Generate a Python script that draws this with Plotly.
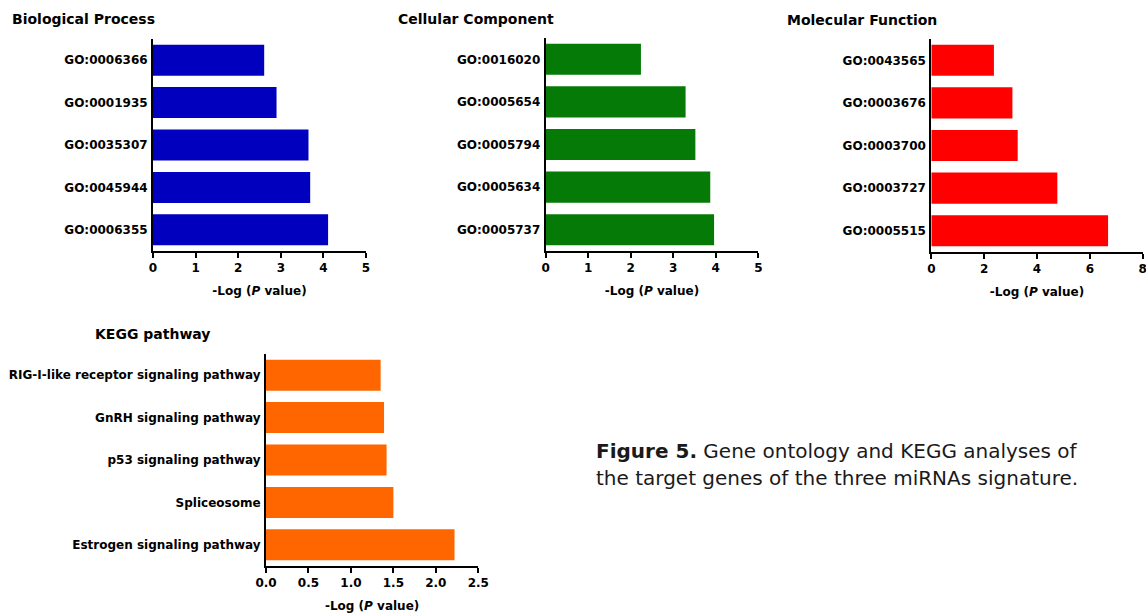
import plotly.graph_objects as go

W, H = 1146, 613

# ---- data ----
bp_terms = ["GO:0006366", "GO:0001935", "GO:0035307", "GO:0045944", "GO:0006355"]
bp_vals = [2.61, 2.90, 3.65, 3.69, 4.11]

cc_terms = ["GO:0016020", "GO:0005654", "GO:0005794", "GO:0005634", "GO:0005737"]
cc_vals = [2.24, 3.29, 3.52, 3.87, 3.96]

mf_terms = ["GO:0043565", "GO:0003676", "GO:0003700", "GO:0003727", "GO:0005515"]
mf_vals = [2.37, 3.07, 3.27, 4.77, 6.69]

kegg_terms = ["RIG-I-like receptor signaling pathway", "GnRH signaling pathway",
              "p53 signaling pathway", "Spliceosome", "Estrogen signaling pathway"]
kegg_vals = [1.35, 1.39, 1.42, 1.50, 2.22]

bp_ticks = [0, 1, 2, 3, 4, 5]
cc_ticks = [0, 1, 2, 3, 4, 5]
mf_ticks = [0, 2, 4, 6, 8]
kegg_ticks = [0.0, 0.5, 1.0, 1.5, 2.0, 2.5]

panel_titles = ["Biological Process", "Cellular Component", "Molecular Function", "KEGG pathway"]
axis_title = "-Log (<i>P</i> value)"
caption_line1 = "<b>Figure 5.</b> Gene ontology and KEGG analyses of"
caption_line2 = "the target genes of the three miRNAs signature."

# ---- layout helpers (page pixel -> paper fraction) ----
def px(x):
    return x / W

def py(y):
    return 1 - y / H

def xd(a, b):
    return [px(a), px(b)]

def yd(top, bottom):
    return [py(bottom), py(top)]

FONT = "DejaVu Sans"
bold12 = dict(family=FONT, size=12, color="black", weight="bold")

panels = [
    dict(terms=bp_terms, vals=bp_vals, color="#0000BE", x=(153, 366), y=(39, 251),
         ticks=bp_ticks, fmt="d", title_xy=(10, 19)),
    dict(terms=cc_terms, vals=cc_vals, color="#067A06", x=(545.7, 758.3), y=(38, 251),
         ticks=cc_ticks, fmt="d", title_xy=(396, 19)),
    dict(terms=mf_terms, vals=mf_vals, color="#FF0000", x=(931.3, 1142.7), y=(39, 252),
         ticks=mf_ticks, fmt="d", title_xy=(785, 20)),
    dict(terms=kegg_terms, vals=kegg_vals, color="#FF6600", x=(266, 478.3), y=(354, 566),
         ticks=kegg_ticks, fmt=".1f", title_xy=(93, 334)),
]

fig = go.Figure()
layout = dict(
    width=W, height=H,
    margin=dict(l=0, r=0, t=0, b=0, autoexpand=False),
    paper_bgcolor="white", plot_bgcolor="white",
    showlegend=False,
    bargap=0.27,
)
annotations = []

for i, p in enumerate(panels, start=1):
    sfx = "" if i == 1 else str(i)
    fig.add_trace(go.Bar(
        x=p["vals"], y=p["terms"], orientation="h",
        marker=dict(color=p["color"], line=dict(width=0)),
        xaxis="x" + sfx, yaxis="y" + sfx, hoverinfo="x+y",
    ))
    layout["xaxis" + sfx] = dict(
        domain=xd(*p["x"]), anchor="y" + sfx, range=[p["ticks"][0], p["ticks"][-1]],
        tickmode="array", tickvals=p["ticks"], tickformat=p["fmt"],
        showgrid=False, zeroline=False,
        showline=True, linecolor="black", linewidth=2, automargin=False,
        ticks="outside", ticklen=5, tickwidth=1.5, tickcolor="black",
        tickfont=bold12, ticklabeloverflow="allow",
        title=dict(text=axis_title, font=dict(family=FONT, size=12, color="black", weight="bold"),
                   standoff=12),
    )
    layout["yaxis" + sfx] = dict(
        domain=yd(*p["y"]), anchor="x" + sfx, type="category",
        autorange="reversed", showgrid=False, zeroline=False, automargin=False,
        showline=True, linecolor="black", linewidth=2, ticks="",
        tickfont=bold12, ticklabelstandoff=1,
    )
    tx, ty = p["title_xy"]
    annotations.append(dict(
        text=panel_titles[i - 1], x=px(tx), y=py(ty), xref="paper", yref="paper",
        xanchor="left", yanchor="middle", showarrow=False,
        font=dict(family=FONT, size=14, color="black", weight="bold"),
    ))

annotations.append(dict(
    text=caption_line1, x=px(594), y=py(451), xref="paper", yref="paper",
    xanchor="left", yanchor="middle", showarrow=False,
    font=dict(family=FONT, size=20, color="#1a1a1a"),
))
annotations.append(dict(
    text=caption_line2, x=px(594), y=py(478), xref="paper", yref="paper",
    xanchor="left", yanchor="middle", showarrow=False,
    font=dict(family=FONT, size=20, color="#1a1a1a"),
))

layout["annotations"] = annotations
fig.update_layout(**layout)
fig.write_html(
    "out.html",
    config={"displayModeBar": False},
    post_script="document.body.style.margin='0';document.body.style.overflow='hidden';",
)
